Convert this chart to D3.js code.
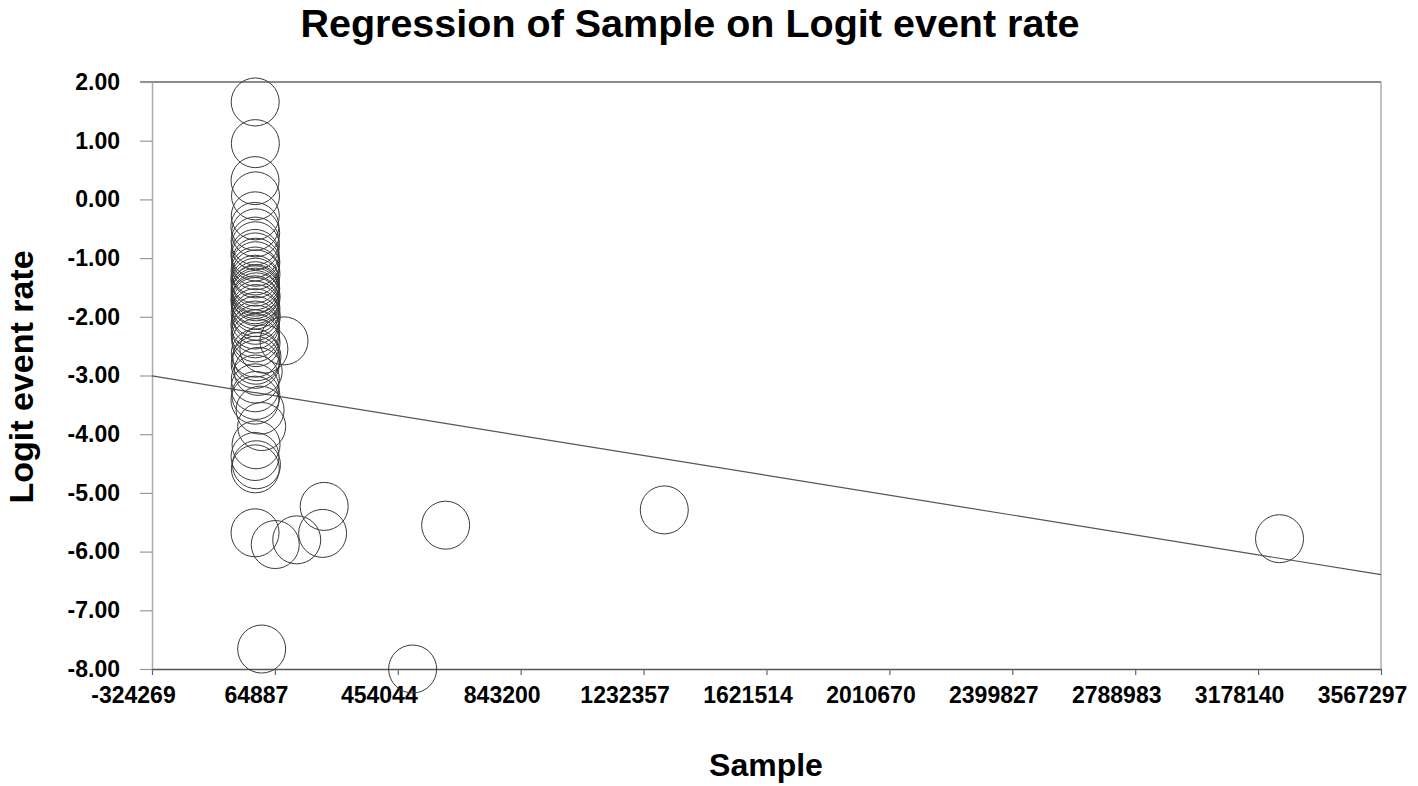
<!DOCTYPE html>
<html>
<head>
<meta charset="utf-8">
<script src="https://cdn.jsdelivr.net/npm/d3@7"></script>
<style>
  body { margin: 0; background: #fff; }
  text { font-family: "Liberation Sans", Arial, sans-serif; font-weight: bold; fill: #000; }
</style>
</head>
<body>
<script>
// tick values on the x axis (as printed by the software)
const xTicks = [-324269, 64887, 454044, 843200, 1232357, 1621514, 2010670, 2399827, 2788983, 3178140, 3567297];
const yTicks = [2, 1, 0, -1, -2, -3, -4, -5, -6, -7, -8];

// studies: sample size and logit event rate
const sampleX = [
  2500, 3000, 2000, 3500, 2800, 1500, 4000, 2200, 3200, 1800,
  2600, 4500, 3800, 2100, 5000, 1200, 3300, 2700, 4200, 1900,
  3600, 2400, 5500, 1600, 3100, 2900, 4800, 2300, 6000, 3400,
  1700, 4100, 2500, 3700, 5200, 30000, 2800, 8000, 4400, 2600,
  12000, 3000, 2100, 4600, 18000, 1800, 23000, 5200, 2000, 6500,
  3000, 93700, 2000, 66000, 134000, 216000, 221000, 605600, 1297800, 23000,
  501000, 3246000
];
const logitY = [
  1.66, 0.95, 0.32, 0.06, -0.28, -0.46, -0.57, -0.71, -0.79, -0.92,
  -0.98, -1.07, -1.13, -1.22, -1.27, -1.36, -1.41, -1.47, -1.52, -1.54,
  -1.58, -1.62, -1.66, -1.71, -1.74, -1.80, -1.86, -1.93, -1.99, -2.06,
  -2.14, -2.21, -2.29, -2.36, -2.44, -2.55, -2.62, -2.68, -2.74, -2.81,
  -2.93, -3.06, -3.21, -3.34, -3.59, -3.42, -3.87, -4.18, -4.38, -4.52,
  -4.59, -2.41, -5.68, -5.88, -5.80, -5.69, -5.23, -5.55, -5.29, -7.66,
  -8.00, -5.78
];

// regression line: logit = intercept + slope * sample
const regIntercept = -3.29;
const regSlope = -8.7e-7;

const W = 1418, H = 786;
const plotLeft = 152, plotRight = 1381, plotTop = 82, plotBottom = 669;

// plain hyphen for negatives, like the original software
const fmt = d3.formatLocale({ decimal: '.', thousands: '', grouping: [3], currency: ['', ''], minus: '-' });

const svg = d3.select('body').append('svg')
  .attr('width', W)
  .attr('height', H);

const x = d3.scaleLinear().domain([xTicks[0], xTicks[xTicks.length - 1]]).range([plotLeft, plotRight]);
const y = d3.scaleLinear().domain([-8, 2]).range([plotBottom, plotTop]);

// title
svg.append('text')
  .attr('x', 690).attr('y', 37)
  .attr('text-anchor', 'middle')
  .style('font-size', '39.5px')
  .text('Regression of Sample on Logit event rate');

// frame
svg.append('line').attr('x1', plotLeft - 12).attr('x2', plotRight).attr('y1', plotTop).attr('y2', plotTop)
  .attr('stroke', '#666').attr('stroke-width', 1.5);
svg.append('line').attr('x1', plotRight).attr('x2', plotRight).attr('y1', plotTop).attr('y2', plotBottom)
  .attr('stroke', '#999').attr('stroke-width', 1.2);

// y axis
const yAxis = svg.append('g')
  .attr('transform', 'translate(' + plotLeft + ',0)')
  .call(d3.axisLeft(y).tickValues(yTicks).tickFormat(fmt.format('.2f'))
    .tickSize(12).tickSizeOuter(0).tickPadding(20));
yAxis.select('.domain').attr('stroke', '#aaa').attr('stroke-width', 1.5);
yAxis.selectAll('.tick line').attr('stroke', '#999').attr('stroke-width', 1.2);
yAxis.selectAll('.tick text')
  .style('font-size', '23px')
  .style('font-family', '"Liberation Sans", Arial, sans-serif')
  .style('font-weight', 'bold')
  .attr('fill', '#000');

// x axis
const xAxis = svg.append('g')
  .attr('transform', 'translate(0,' + plotBottom + ')')
  .call(d3.axisBottom(x).tickValues(xTicks).tickFormat(fmt.format('d')).tickSize(6).tickSizeOuter(0));
xAxis.select('.domain').attr('stroke', '#555').attr('stroke-width', 1.5);
xAxis.selectAll('.tick line').attr('stroke', '#666').attr('stroke-width', 1.2);
xAxis.selectAll('.tick text')
  .attr('x', -19)
  .attr('y', 34)
  .attr('dy', 0)
  .style('font-size', '23px')
  .style('font-family', '"Liberation Sans", Arial, sans-serif')
  .style('font-weight', 'bold')
  .attr('fill', '#000');

// axis titles
svg.append('text')
  .attr('transform', 'translate(33,377) rotate(-90)')
  .attr('text-anchor', 'middle')
  .style('font-size', '34px')
  .text('Logit event rate');

svg.append('text')
  .attr('x', 766).attr('y', 776)
  .attr('text-anchor', 'middle')
  .style('font-size', '32px')
  .text('Sample');

// regression line
const xd = x.domain();
svg.append('line')
  .attr('x1', x(xd[0])).attr('y1', y(regIntercept + regSlope * xd[0]))
  .attr('x2', x(xd[1])).attr('y2', y(regIntercept + regSlope * xd[1]))
  .attr('stroke', '#555').attr('stroke-width', 1.2);

// study circles
const studies = sampleX.map((s, i) => ({ s: s, l: logitY[i] }));
svg.append('g').selectAll('circle')
  .data(studies)
  .join('circle')
  .attr('cx', d => x(d.s))
  .attr('cy', d => y(d.l))
  .attr('r', 24)
  .attr('fill', 'none')
  .attr('stroke', '#3a3a3a')
  .attr('stroke-width', 1);
</script>
</body>
</html>
